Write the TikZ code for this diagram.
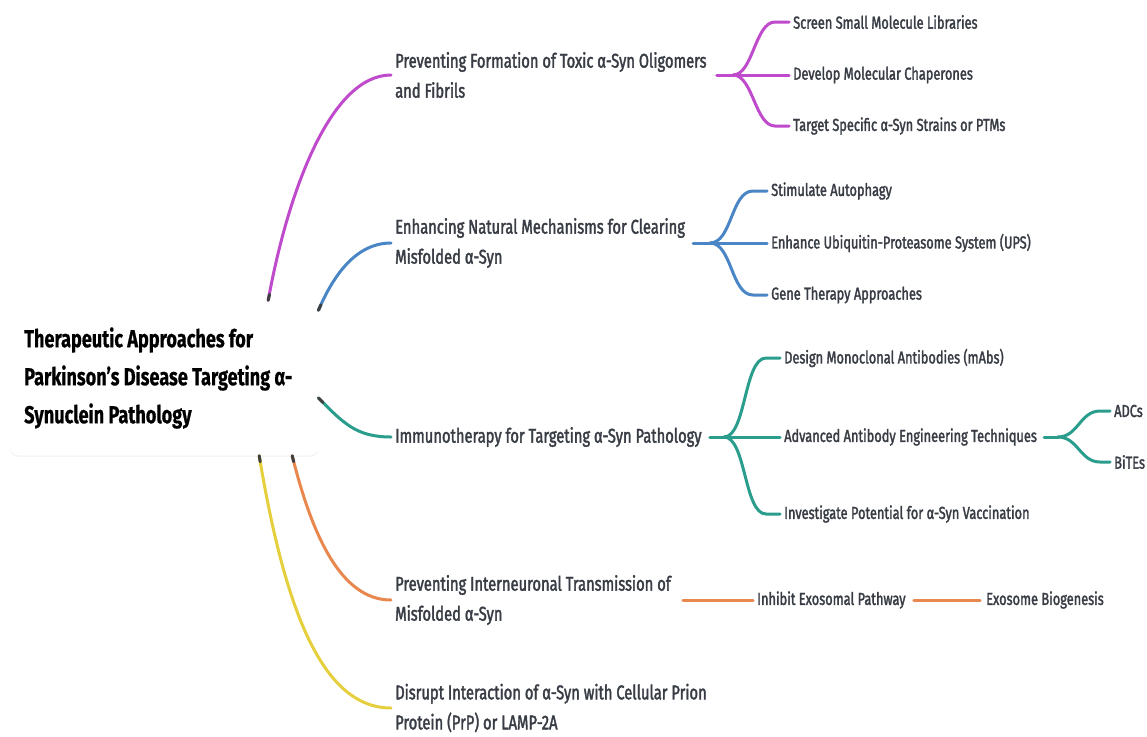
\documentclass[tikz,border=0pt]{standalone}
\usepackage{fontspec}
\setmainfont{Fira Sans}[FakeStretch=0.74, FakeBold=1.8, BoldFeatures={FakeBold=0.6}]
\usetikzlibrary{shadows,calc}
\definecolor{cpur}{HTML}{BF4ACB}
\definecolor{cblu}{HTML}{4A86C5}
\definecolor{ctea}{HTML}{2A9D8C}
\definecolor{cora}{HTML}{E8884E}
\definecolor{cyel}{HTML}{E5CF3C}
\definecolor{txt}{HTML}{383C44}
\begin{document}
\begin{tikzpicture}[x=1pt,y=-1pt,
  rootbox/.style={anchor=west, minimum width=308pt, minimum height=155pt,
     fill=white, rounded corners=8pt, drop shadow={opacity=0.12, shadow xshift=0pt, shadow yshift=-1pt}},
  roottext/.style={anchor=west, align=left, inner sep=0pt,
     font=\fontsize{24.5}{38}\selectfont\bfseries, text=black},
  branch/.style={anchor=west, align=left, font=\fontsize{19.9}{30}\selectfont, text=txt, inner sep=4pt},
  leaf/.style={anchor=west, align=left, font=\fontsize{17.3}{18}\selectfont, text=txt, inner sep=4pt},
  conn/.style={line width=3pt, line cap=round},
  tip/.style={line width=3pt, line cap=round, black!75}
]
\useasboundingbox (0,0) rectangle (1147,736);
\fill[white] (0,0) rectangle (1147,736);

\node[rootbox] (root) at (10,378) {};
\node[roottext] (roottxt) at (24,378) {Therapeutic Approaches for\\Parkinson's Disease Targeting α-\\Synuclein Pathology};

% branches
\node[branch] (b1) at (391,75) {Preventing Formation of Toxic α-Syn Oligomers\\and Fibrils};
\node[branch] (b2) at (391,243) {Enhancing Natural Mechanisms for Clearing\\Misfolded α-Syn};
\node[branch] (b3) at (391,437) {Immunotherapy for Targeting α-Syn Pathology};
\node[branch] (b4) at (391,600) {Preventing Interneuronal Transmission of\\Misfolded α-Syn};
\node[branch] (b5) at (391,708) {Disrupt Interaction of α-Syn with Cellular Prion\\Protein (PrP) or LAMP-2A};

% leaves
\node[leaf] (c11) at (789,22) {Screen Small Molecule Libraries};
\node[leaf] (c12) at (789,75) {Develop Molecular Chaperones};
\node[leaf] (c13) at (789,126) {Target Specific α-Syn Strains or PTMs};
\node[leaf] (c21) at (767,191) {Stimulate Autophagy};
\node[leaf] (c22) at (767,243) {Enhance Ubiquitin-Proteasome System (UPS)};
\node[leaf] (c23) at (767,295) {Gene Therapy Approaches};
\node[leaf] (c31) at (780,358) {Design Monoclonal Antibodies (mAbs)};
\node[leaf] (c32) at (780,437) {Advanced Antibody Engineering Techniques};
\node[leaf] (c33) at (780,514) {Investigate Potential for α-Syn Vaccination};
\node[leaf] (d1) at (1110,411) {ADCs};
\node[leaf] (d2) at (1110,462) {BiTEs};
\node[leaf] (c41) at (753,600) {Inhibit Exosomal Pathway};
\node[leaf] (d41) at (982,600) {Exosome Biogenesis};

% fork points
\coordinate (f1) at (733,75);
\coordinate (f2) at (710,243);
\coordinate (f3) at (724,437);
\coordinate (f32) at (1058,437);

% root connectors
\draw[conn,cpur] ([xshift=104pt]root.north) .. controls +(20,-110) and +(-60,0) .. (b1.west);
\draw[conn,cblu] ([yshift=-10pt]root.north east) .. controls +(15,-35) and +(-35,0) .. (b2.west);
\draw[conn,ctea] ([yshift=-20pt]root.east) .. controls +(25,25) and +(-35,0) .. (b3.west);
\draw[conn,cora] ([xshift=128pt]root.south) .. controls +(20,80) and +(-50,0) .. (b4.west);
\draw[conn,cyel] ([xshift=95pt]root.south) .. controls +(25,150) and +(-70,0) .. (b5.west);
% dark tips at the root
\draw[tip] ([xshift=104pt]root.north) -- +(1.3,-6);
\draw[tip] ([yshift=-10pt]root.north east) -- +(2.5,-5.5);
\draw[tip] ([yshift=-20pt]root.east) -- +(4.5,4.5);
\draw[tip] ([xshift=128pt]root.south) -- +(1.5,6);
\draw[tip] ([xshift=95pt]root.south) -- +(1,6);

% purple fork
\draw[conn,cpur] ([xshift=6pt]b1.east) -- (f1) -- (c12.west);
\foreach \c in {c11,c13}{
  \draw[conn,cpur] (f1) .. controls +(20,0) and +(-20,0) .. ($(\c.west)+(-14,0)$) -- (\c.west);
}
% blue fork
\draw[conn,cblu] ([xshift=4pt]b2.east) -- (f2) -- (c22.west);
\foreach \c in {c21,c23}{
  \draw[conn,cblu] (f2) .. controls +(22,0) and +(-22,0) .. ($(\c.west)+(-14,0)$) -- (\c.west);
}
% teal fork
\draw[conn,ctea] ([xshift=4pt]b3.east) -- (f3) -- (c32.west);
\foreach \c in {c31,c33}{
  \draw[conn,ctea] (f3) .. controls +(22,0) and +(-22,0) .. ($(\c.west)+(-14,0)$) -- (\c.west);
}
\draw[conn,ctea] ([xshift=3pt]c32.east) -- (f32);
\foreach \c in {d1,d2}{
  \draw[conn,ctea] (f32) .. controls +(20,0) and +(-20,0) .. ($(\c.west)+(-10,0)$) -- (\c.west);
}
% orange chain
\draw[conn,cora] ([xshift=8pt]b4.east) -- (c41.west);
\draw[conn,cora] ([xshift=4pt]c41.east) -- ([xshift=-2pt]d41.west);
\end{tikzpicture}
\end{document}
